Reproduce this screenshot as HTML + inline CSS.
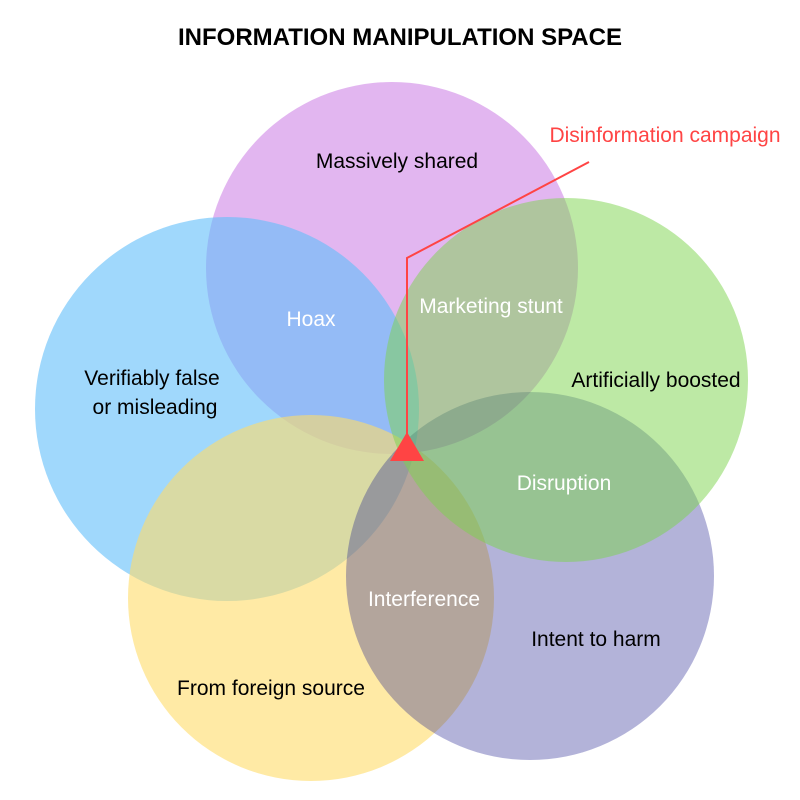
<!DOCTYPE html>
<html><head><meta charset="utf-8"><style>html,body{margin:0;padding:0;background:#fff}svg{display:block}</style></head><body>
<svg width="800" height="800" viewBox="0 0 800 800" xmlns="http://www.w3.org/2000/svg" font-family="Liberation Sans, Arial, sans-serif">
<rect width="800" height="800" fill="#fff"/>
<text x="400" y="45" text-anchor="middle" font-size="24" font-weight="bold" fill="#000">INFORMATION MANIPULATION SPACE</text>
<circle cx="392" cy="268" r="186" fill="#cf85e6" opacity="0.6"/>
<circle cx="227" cy="409" r="192" fill="#61befa" opacity="0.6"/>
<circle cx="311" cy="598" r="183" fill="#ffdc69" opacity="0.6"/>
<circle cx="530" cy="576" r="184" fill="#18188c" opacity="0.33"/>
<circle cx="566" cy="380" r="182" fill="#7bd34b" opacity="0.5"/>
<g font-size="21" fill="#000">
<text x="397" y="168" text-anchor="middle">Massively shared</text>
<text x="152" y="385" text-anchor="middle">Verifiably false</text>
<text x="155" y="414" text-anchor="middle">or misleading</text>
<text x="656" y="387" text-anchor="middle">Artificially boosted</text>
<text x="596" y="646" text-anchor="middle">Intent to harm</text>
<text x="271" y="695" text-anchor="middle">From foreign source</text>
</g>
<g font-size="21" fill="#fff">
<text x="311" y="326" text-anchor="middle">Hoax</text>
<text x="491" y="313" text-anchor="middle">Marketing stunt</text>
<text x="564" y="490" text-anchor="middle">Disruption</text>
<text x="424" y="606" text-anchor="middle">Interference</text>
</g>
<text x="665" y="142" text-anchor="middle" font-size="21" fill="#ff4444">Disinformation campaign</text>
<polyline points="589,162 407,258 407,440" fill="none" stroke="#ff4444" stroke-width="2"/>
<polygon points="407,432 390,461 424,461" fill="#ff4444"/>
</svg>
</body></html>
